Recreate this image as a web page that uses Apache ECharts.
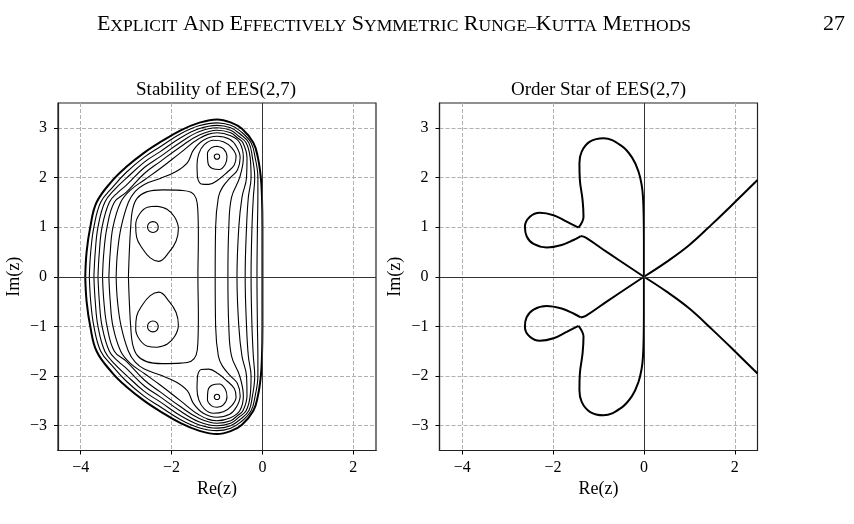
<!DOCTYPE html>
<html>
<head>
<meta charset="utf-8">
<title>EES(2,7)</title>
<script src="https://cdn.jsdelivr.net/npm/echarts@6/dist/echarts.min.js"></script>
<style>
  html, body { margin:0; padding:0; background:#fff; }
  #ees-chart { width:854px; height:524px; }
</style>
</head>
<body>
<div id="ees-chart"></div>
<script>
  // tick values of both panels
  var reTicks = [-4, -2, 0, 2];
  var imTicks = [-3, -2, -1, 0, 1, 2, 3];

  // |R(z)| level curves, upper half only (left axis crossing -> top -> right axis crossing)
  var stabLevel1 = [[-3.90,0],[-3.87,0.5],[-3.79,1.0],[-3.65,1.5],[-3.3,1.94],[-3.0,2.21],[-2.6,2.5],[-2.25,2.71],[-1.8,2.95],[-1.4,3.1],[-1.0,3.17],[-0.7,3.11],[-0.45,2.98],[-0.2,2.7],[-0.1,2.4],[-0.035,2.0],[-0.01,1.6],[0,1.0],[0,0]];
  var stabLevel2 = [[-3.81,0],[-3.78,0.5],[-3.71,1.0],[-3.56,1.5],[-3.3,1.8],[-3.0,2.1],[-2.6,2.41],[-2.25,2.62],[-1.8,2.88],[-1.4,3.04],[-1.0,3.10],[-0.7,3.05],[-0.48,2.93],[-0.25,2.7],[-0.16,2.4],[-0.1,2.0],[-0.1,1.6],[-0.11,1.0],[-0.12,0]];
  var stabLevel3 = [[-3.71,0],[-3.68,0.5],[-3.62,1.0],[-3.47,1.5],[-3.25,1.76],[-3.0,1.98],[-2.6,2.31],[-2.25,2.52],[-1.8,2.8],[-1.4,2.98],[-1.0,3.05],[-0.7,3.0],[-0.5,2.88],[-0.3,2.7],[-0.22,2.4],[-0.17,2.0],[-0.2,1.6],[-0.23,1.0],[-0.25,0]];
  var stabLevel4 = [[-3.62,0],[-3.59,0.5],[-3.53,1.0],[-3.37,1.5],[-3.18,1.7],[-3.0,1.84],[-2.6,2.2],[-2.25,2.42],[-1.8,2.71],[-1.4,2.92],[-1.0,3.0],[-0.7,2.95],[-0.52,2.83],[-0.36,2.7],[-0.27,2.4],[-0.25,2.0],[-0.31,1.6],[-0.35,1.0],[-0.38,0]];
  var stabLevel5 = [[-3.52,0],[-3.49,0.5],[-3.42,1.0],[-3.26,1.5],[-3.0,1.7],[-2.6,2.08],[-2.25,2.32],[-1.8,2.62],[-1.4,2.85],[-1.0,2.95],[-0.7,2.9],[-0.54,2.79],[-0.43,2.7],[-0.34,2.4],[-0.35,2.0],[-0.45,1.6],[-0.52,1.0],[-0.56,0]];
  var stabLevel6 = [[-3.38,0],[-3.35,0.5],[-3.29,1.0],[-3.12,1.5],[-2.9,1.75],[-2.6,1.95],[-2.25,2.18],[-1.8,2.5],[-1.4,2.78],[-1.0,2.90],[-0.7,2.84],[-0.5,2.7],[-0.42,2.4],[-0.5,2.0],[-0.68,1.6],[-0.74,1.0],[-0.76,0]];
  var stabLevel7 = [[-3.22,0],[-3.19,0.5],[-3.11,1.0],[-2.95,1.5],[-2.8,1.72],[-2.6,1.86],[-2.25,1.98],[-1.9,2.12],[-1.65,2.3],[-1.52,2.55],[-1.3,2.75],[-1.0,2.83],[-0.72,2.77],[-0.57,2.62],[-0.49,2.4],[-0.55,2.15],[-0.7,2.0],[-0.88,1.8],[-0.97,1.6],[-1.03,1.0],[-1.04,0]];
  var stabRect = [[-2.95,0],[-2.93,0.5],[-2.9,1.0],[-2.86,1.35],[-2.76,1.58],[-2.55,1.71],[-2.2,1.75],[-1.8,1.74],[-1.57,1.7],[-1.46,1.58],[-1.42,1.3],[-1.41,0.8],[-1.42,0]];

  // closed loops in the upper half
  var stabTear = [[-1.43,2.0],[-1.44,2.25],[-1.40,2.48],[-1.28,2.66],[-1.08,2.75],[-0.86,2.72],[-0.68,2.6],[-0.58,2.42],[-0.62,2.25],[-0.78,2.1],[-0.98,1.95],[-1.18,1.86],[-1.35,1.87],[-1.43,2.0]];
  var stabRingTop = [[-1.0,2.63],[-0.86,2.58],[-0.78,2.42],[-0.82,2.26],[-0.95,2.16],[-1.1,2.18],[-1.2,2.3],[-1.21,2.48],[-1.12,2.6],[-1.0,2.63]];
  var stabRingMid = [[-2.32,1.42],[-2.1,1.36],[-1.93,1.2],[-1.85,0.97],[-1.9,0.72],[-2.05,0.5],[-2.28,0.31],[-2.47,0.38],[-2.65,0.58],[-2.77,0.8],[-2.79,1.05],[-2.7,1.27],[-2.53,1.40],[-2.32,1.42]];
  var stabDotTop = [[-0.94,2.42],[-0.958,2.458],[-1.0,2.474],[-1.042,2.458],[-1.06,2.42],[-1.042,2.382],[-1.0,2.366],[-0.958,2.382],[-0.94,2.42]];
  var stabDotMid = [[-2.29,1.0],[-2.325,1.078],[-2.41,1.11],[-2.495,1.078],[-2.53,1.0],[-2.495,0.922],[-2.41,0.89],[-2.325,0.922],[-2.29,1.0]];

  // order star boundary, upper half
  var starLobe = [[0,0],[0,0.6],[-0.005,1.2],[-0.02,1.6],[-0.05,1.85],[-0.12,2.12],[-0.26,2.4],[-0.5,2.64],[-0.89,2.79],[-1.19,2.72],[-1.37,2.52],[-1.42,2.28],[-1.41,1.95],[-1.35,1.54],[-1.33,1.21],[-1.44,0.99]];
  var starLeaf = [[-1.44,0.99],[-1.70,1.11],[-1.99,1.24],[-2.29,1.29],[-2.51,1.21],[-2.62,1.01],[-2.58,0.81],[-2.43,0.66],[-2.14,0.59],[-1.81,0.64],[-1.55,0.74],[-1.39,0.82]];
  var starDiag = [[-1.39,0.82],[-1.28,0.79],[-0.82,0.50],[0,0]];
  var starBranch = [[0,0],[0.5,0.3],[1.0,0.64],[1.5,1.06],[2.0,1.5],[2.5,1.95]];

  var serif = '"Liberation Serif", "Times New Roman", serif';

  function mirror(pts) {
    return pts.map(function (p) { return [p[0], -p[1]]; });
  }
  // upper half from axis to axis -> full closed curve
  function closeLoop(upper) {
    return upper.concat(mirror(upper.slice(0, -1)).reverse());
  }
  function tickText(v) {
    return v < 0 ? '\u2212' + Math.abs(v) : String(v);
  }
  function curve(data, idx, width) {
    return {
      type: 'line', xAxisIndex: idx, yAxisIndex: idx, data: data,
      symbol: 'none', smooth: 0.4, silent: true, z: 4,
      lineStyle: { color: '#000', width: width }
    };
  }
  function xAxisFor(idx) {
    return {
      gridIndex: idx, type: 'value', min: -4.5, max: 2.5,
      name: 'Re(z)', nameLocation: 'middle', nameGap: 29,
      nameTextStyle: { fontFamily: serif, fontSize: 18, color: '#000' },
      axisLine: { show: true, onZero: false, lineStyle: { color: '#222', width: 1.2 } },
      axisTick: { show: true, length: 4, customValues: reTicks, lineStyle: { color: '#000', width: 1 } },
      axisLabel: { customValues: reTicks, margin: 9, formatter: tickText, fontFamily: serif, fontSize: 16, color: '#000' },
      splitLine: { show: true, lineStyle: { color: '#b0b0b0', width: 1, type: [4, 2] } }
    };
  }
  function yAxisFor(idx) {
    return {
      gridIndex: idx, type: 'value', min: -3.5, max: 3.5,
      name: 'Im(z)', nameLocation: 'middle', nameGap: 35,
      nameTextStyle: { fontFamily: serif, fontSize: 18, color: '#000' },
      axisLine: { show: true, onZero: false, lineStyle: { color: '#222', width: 1.2 } },
      axisTick: { show: true, length: 4, customValues: imTicks, lineStyle: { color: '#000', width: 1 } },
      axisLabel: { customValues: imTicks, margin: 11, formatter: tickText, fontFamily: serif, fontSize: 16, color: '#000' },
      splitLine: { show: true, lineStyle: { color: '#b0b0b0', width: 1, type: [4, 2] } }
    };
  }
  // the two zero lines of a panel
  function zeroLines() {
    return {
      silent: true, symbol: ['none', 'none'], label: { show: false }, animation: false,
      lineStyle: { color: '#333', width: 1, type: 'solid' },
      data: [{ xAxis: 0 }, { yAxis: 0 }]
    };
  }

  var series = [];
  var levels = [stabLevel1, stabLevel2, stabLevel3, stabLevel4, stabLevel5, stabLevel6, stabLevel7, stabRect];
  levels.forEach(function (lv, i) {
    series.push(curve(closeLoop(lv), 0, i === 0 ? 2 : 1.1));
  });
  [stabTear, stabRingTop, stabRingMid, stabDotTop, stabDotMid].forEach(function (loop) {
    series.push(curve(loop, 0, 1.1));
    series.push(curve(mirror(loop), 0, 1.1));
  });
  series[0].markLine = zeroLines();

  var first = series.length;
  [starLobe, starLeaf, starDiag, starBranch].forEach(function (seg) {
    series.push(curve(seg, 1, 2));
    series.push(curve(mirror(seg), 1, 2));
  });
  series[first].markLine = zeroLines();

  function scText(words) {
    // small caps: first letter large, the rest smaller
    return words.map(function (w) {
      return w.split('\u2013').map(function (p) {
        return '{c|' + p.charAt(0) + '}{s|' + p.slice(1) + '}';
      }).join('{s|\u2013}');
    }).join('{c| }');
  }

  var myChart = echarts.init(document.getElementById('ees-chart'), null, { renderer: 'canvas' });
  var option = {
    animation: false,
    backgroundColor: '#fff',
    grid: [
      { left: 58, top: 103, width: 318, height: 347.5, show: true, borderColor: '#222', borderWidth: 1.2 },
      { left: 439.5, top: 103, width: 318, height: 347.5, show: true, borderColor: '#222', borderWidth: 1.2 }
    ],
    xAxis: [xAxisFor(0), xAxisFor(1)],
    yAxis: [yAxisFor(0), yAxisFor(1)],
    graphic: [
      {
        type: 'text', x: 394, y: 24,
        style: {
          text: scText(['EXPLICIT', 'AND', 'EFFECTIVELY', 'SYMMETRIC', 'RUNGE\u2013KUTTA', 'METHODS']),
          align: 'center', verticalAlign: 'middle', fill: '#000',
          rich: {
            c: { fontFamily: serif, fontSize: 22, verticalAlign: 'bottom' },
            s: { fontFamily: serif, fontSize: 17.5, verticalAlign: 'bottom' }
          }
        }
      },
      { type: 'text', x: 834, y: 24, style: { text: '27', font: '22px ' + serif, align: 'center', verticalAlign: 'middle', fill: '#000' } },
      { type: 'text', x: 216, y: 90, style: { text: 'Stability of EES(2,7)', font: '19px ' + serif, align: 'center', verticalAlign: 'middle', fill: '#000' } },
      { type: 'text', x: 598.5, y: 90, style: { text: 'Order Star of EES(2,7)', font: '19px ' + serif, align: 'center', verticalAlign: 'middle', fill: '#000' } }
    ],
    series: series
  };
  myChart.setOption(option, true);
</script>
</body>
</html>
